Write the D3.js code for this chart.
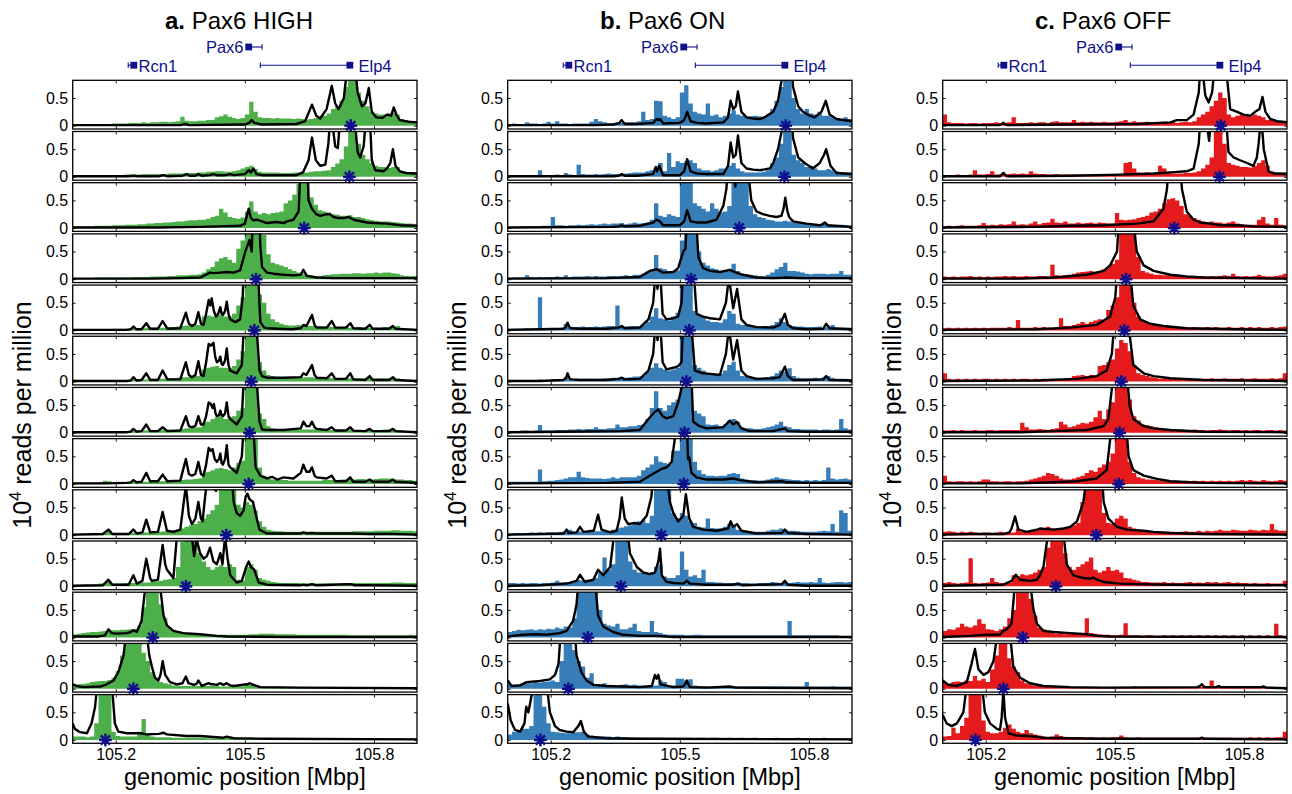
<!DOCTYPE html>
<html><head><meta charset="utf-8">
<script src="https://cdn.jsdelivr.net/npm/d3@7"></script>
<style>
body{margin:0;background:#fff;}
svg{display:block;font-family:"Liberation Sans",Arial,Helvetica,sans-serif;}
</style></head><body>
<svg id="chart" width="1292" height="794"></svg>
<script>
// ---- data -------------------------------------------------------------
const conditions = ["Pax6 HIGH", "Pax6 ON", "Pax6 OFF"];
const panelLetters = ["a.", "b.", "c."];
const regionStart = 105.1, regionEnd = 105.9;   // Mbp
const binKb = 10;                                // histogram bin width, kb
const xTicks = [105.2, 105.5, 105.8];
const yTicks = [0, 0.5];
// viewpoint of each capture row, Mbp
const viewpoints = [105.746, 105.743, 105.638, 105.526, 105.522, 105.515, 105.511, 105.509, 105.457, 105.363, 105.286, 105.241, 105.176];

// gene annotation track
const geneNames   = ["Rcn1", "Pax6", "Elp4"];
const geneMark    = [105.242, 105.509, 105.744];
const geneFrom    = [105.229, 105.509, 105.536];
const geneTo      = [105.242, 105.540, 105.744];
const geneLabelAt = [105.253, 105.497, 105.764];
const geneTrack   = [1, 0, 1];

// measured reads (10^4 reads per million, x100), 10 kb bins from 105.1 Mbp
const highReads = [
[2,2,2,3,3,3,3,3,3,4, 4,4,4,5,5,5,6,5,6,6, 7,7,6,7,8,16,9,8,8,9, 9,10,10,15,17,20,16,14,12,14, 20,43,25,15,14,14,13,14,13,13, 13,12,13,12,11,12,14,15,18,22, 30,35,45,70,100,95,60,45,35,25, 22,20,20,22,23,20,12,10,8,8],
[2,2,2,2,3,3,2,3,3,3, 3,3,4,4,4,4,5,5,5,5, 5,5,6,6,6,6,6,7,7,8, 8,9,9,10,10,9,9,10,12,15, 18,20,14,9,8,8,8,8,7,7, 7,8,8,8,8,9,10,10,11,12, 18,24,32,55,100,100,60,40,32,25, 20,18,18,16,18,18,10,7,5,5],
[3,3,3,3,3,4,4,4,4,5, 5,5,6,6,6,7,7,8,8,9, 9,10,10,11,12,12,13,14,14,15, 15,17,20,22,35,28,20,18,17,19, 30,48,30,25,27,25,27,28,30,45, 50,60,80,100,100,55,42,32,30,28, 25,24,22,22,23,20,20,18,16,14, 13,12,12,12,11,10,9,8,8,7],
[2,2,2,2,2,3,3,3,3,3, 3,3,3,3,4,4,4,4,5,5, 5,5,6,6,7,7,7,8,8,9, 12,18,22,32,38,40,35,30,55,70, 100,100,100,100,80,45,30,27,25,22, 18,15,12,10,8,7,6,6,7,8, 9,9,10,10,10,11,11,10,11,11, 12,11,12,12,11,10,7,6,6,6],
[1,1,1,1,2,2,2,2,2,3, 3,3,3,3,4,4,4,5,5,5, 5,5,6,6,7,8,9,8,10,10, 25,27,25,30,28,25,25,30,45,60, 100,100,100,65,50,30,20,15,12,10, 9,9,10,9,8,8,8,8,7,7, 6,6,5,6,5,5,6,5,5,5, 5,5,6,6,7,8,4,3,3,3],
[1,1,1,1,1,2,2,2,2,2, 3,3,3,3,4,4,4,4,5,5, 5,5,6,6,7,8,8,9,10,10, 22,25,27,28,25,25,25,28,40,55, 100,100,100,35,20,12,10,8,8,8, 8,8,8,8,8,8,7,7,7,7, 6,6,6,6,6,6,6,6,6,6, 6,6,6,6,6,6,4,3,3,3],
[1,1,1,1,2,2,2,2,2,2, 2,3,3,3,3,4,4,4,4,5, 5,5,6,6,7,7,8,8,9,10, 18,20,25,28,30,25,28,30,40,45, 100,100,100,35,25,12,8,7,7,6, 6,6,6,6,6,6,6,5,5,5, 5,5,5,5,5,5,5,5,5,5, 5,5,6,6,6,5,4,3,3,3],
[2,2,2,2,2,3,3,6,5,3, 4,4,3,3,3,4,4,4,5,5, 5,5,6,6,6,7,8,8,9,10, 20,22,25,28,29,27,25,30,38,42, 100,100,100,30,15,10,8,8,7,7, 6,6,6,6,6,6,6,6,7,7, 7,7,8,8,8,8,9,9,8,8, 9,10,10,10,9,8,8,7,7,6],
[2,2,2,2,2,3,3,4,7,3, 3,3,4,4,4,5,5,5,5,6, 6,7,8,9,10,12,15,18,20,25, 30,38,45,55,100,100,100,100,55,50, 60,55,45,25,15,10,8,7,7,6, 6,6,6,6,6,6,6,6,6,6, 6,6,6,6,6,7,7,7,7,7, 8,8,8,8,9,9,8,8,8,7],
[2,2,3,3,3,4,5,6,9,5, 5,5,6,6,6,7,7,7,8,9, 10,12,13,15,35,80,100,100,100,60, 45,35,30,35,38,35,40,35,12,10, 35,40,30,15,12,10,8,7,6,6, 6,6,6,5,5,5,5,5,5,5, 5,5,6,6,6,6,6,6,6,6, 6,6,6,6,7,7,7,6,6,6],
[6,7,8,9,10,10,11,12,12,13, 13,14,14,15,16,22,55,100,100,100, 60,35,18,14,12,10,8,7,6,6, 6,5,5,5,5,5,5,5,5,5, 5,6,6,7,7,7,7,6,6,6, 6,6,5,5,5,5,5,5,5,5, 5,5,5,5,4,4,4,4,4,4, 4,4,4,4,4,4,4,4,5,4],
[8,8,9,10,12,13,14,14,16,20, 32,60,85,100,100,100,65,50,30,20, 12,10,8,6,6,5,5,5,5,5, 5,5,5,5,4,4,4,4,4,4, 8,10,6,4,4,4,4,4,3,3, 3,3,3,3,3,3,3,3,3,3, 3,3,3,3,3,3,3,3,3,3, 3,3,3,3,3,3,3,3,3,3],
[6,6,6,5,6,30,100,100,100,15, 7,6,6,6,6,15,38,10,6,5, 5,5,5,4,4,4,4,4,4,4, 4,3,3,3,3,3,4,5,3,3, 3,5,3,3,3,3,3,3,3,3, 3,3,3,3,3,3,3,3,3,3, 3,3,3,2,3,3,3,3,3,3, 3,3,3,3,3,3,3,2,3,3]
];
const onReads = [
[3,4,3,3,6,4,4,3,4,7, 4,8,4,4,3,4,4,4,4,7, 12,8,6,5,5,6,5,6,6,6, 8,25,10,12,45,44,18,15,12,15, 60,73,40,25,22,20,40,18,20,15, 18,22,28,20,18,16,17,18,17,16, 20,30,45,70,100,100,50,30,22,30, 22,20,25,18,18,15,13,12,15,12],
[2,2,3,3,2,3,3,12,3,3, 3,4,3,7,4,3,22,5,4,4, 5,4,5,6,5,5,5,6,7,8, 8,8,10,12,10,25,10,43,18,28, 25,28,30,25,15,12,12,10,12,15, 15,20,25,15,10,8,8,8,8,9, 12,25,35,60,100,100,40,30,25,18, 20,15,12,12,14,12,10,8,8,8],
[2,2,2,3,3,3,3,3,4,4, 20,5,5,4,5,5,6,5,6,7, 6,7,8,7,8,8,9,7,8,10, 8,9,10,15,45,22,20,25,22,20, 100,100,100,45,40,35,30,45,35,28, 30,40,100,100,100,100,40,25,20,18, 15,14,12,12,13,12,10,10,9,8, 7,6,6,10,6,5,5,6,5,4],
[2,3,3,3,7,4,3,4,3,4, 4,5,4,7,4,5,5,5,6,5, 6,5,5,6,6,5,6,7,6,8, 8,10,14,15,44,20,18,15,15,16, 70,100,100,100,50,30,25,20,18,15, 15,18,28,15,10,9,8,7,5,5, 8,12,18,22,30,15,15,14,12,10, 9,10,10,10,9,10,10,15,8,8],
[3,3,3,3,4,3,3,60,4,4, 4,4,5,12,5,6,6,7,6,6, 7,6,7,8,8,45,6,7,8,8, 8,10,15,25,40,22,20,18,25,32, 100,100,100,35,28,25,18,15,15,14, 20,35,30,12,10,10,8,8,7,8, 8,10,15,22,15,10,8,7,7,6, 6,6,7,5,6,10,5,5,5,5],
[2,2,2,3,3,3,3,4,3,3, 4,4,4,8,4,4,5,5,5,5, 5,5,6,6,7,7,8,7,8,9, 9,10,18,25,33,25,22,20,22,25, 100,100,100,30,25,20,15,15,14,14, 20,30,36,20,10,9,8,7,7,7, 8,10,15,20,18,24,10,7,6,6, 6,7,6,8,10,7,5,5,5,4],
[3,3,3,4,4,3,4,14,4,4, 4,5,5,5,6,6,7,6,7,7, 10,7,7,8,8,15,10,10,12,12, 14,15,25,45,75,45,40,50,55,60, 100,100,100,40,35,30,15,14,15,12, 15,22,25,20,10,8,8,7,7,8, 10,12,15,20,12,10,7,7,6,6, 6,6,5,6,6,5,6,25,8,6],
[4,4,4,4,4,4,4,26,5,6, 6,7,8,10,12,12,22,12,11,10, 10,10,9,10,12,10,12,12,12,12, 15,25,30,35,50,40,38,35,60,60, 100,100,100,40,25,18,15,15,14,15, 15,18,20,18,10,8,7,7,6,6, 8,10,12,10,9,8,7,7,6,7, 6,7,6,7,30,10,8,9,10,8],
[3,4,4,3,4,5,4,5,4,5, 5,5,6,5,10,6,7,6,7,10, 7,7,8,8,10,12,14,16,18,22, 25,28,22,35,100,100,100,100,40,30, 40,35,25,22,15,14,30,13,12,12, 15,20,18,10,7,6,6,6,6,6, 8,10,10,12,10,8,8,7,6,6, 6,6,7,8,7,20,6,45,40,8],
[6,6,5,6,5,6,6,5,6,6, 7,10,7,8,8,10,12,10,12,10, 15,25,52,30,40,100,100,100,45,30, 25,25,22,25,35,40,18,15,15,20, 63,30,18,20,15,30,8,8,7,7, 6,6,6,7,6,6,5,5,6,6, 6,8,7,6,8,6,7,8,7,7, 8,7,15,7,6,7,8,8,7,8],
[10,12,14,13,14,15,13,15,14,16, 15,18,16,20,18,35,100,100,100,100, 100,50,25,22,20,25,15,15,18,25, 12,10,10,30,10,8,6,5,5,5, 5,4,4,5,5,4,4,4,4,4, 4,4,4,4,4,4,4,4,4,4, 4,4,4,4,4,30,4,4,4,4, 4,4,4,4,4,4,4,3,3,3],
[8,7,8,10,12,10,12,11,12,13, 15,12,50,100,100,70,50,40,20,28, 8,8,10,7,6,6,7,8,6,7, 6,6,5,6,6,15,12,5,6,18, 18,15,17,6,5,5,4,4,4,5, 4,4,4,4,4,4,4,4,4,4, 4,4,4,4,4,4,4,4,4,12, 4,4,4,4,4,5,4,4,4,4],
[10,15,18,20,20,25,100,100,60,30, 15,14,13,12,12,14,14,15,10,8, 7,6,6,6,5,6,5,5,4,4, 4,4,4,4,4,4,4,4,4,4, 4,4,4,3,4,4,3,4,4,3, 3,4,3,3,4,3,3,4,3,3, 3,3,4,3,3,3,3,4,3,3, 3,3,3,4,3,3,3,3,3,3]
];
const offReads = [
[20,6,5,5,5,4,5,5,4,5, 5,5,6,5,5,6,15,5,5,5, 6,5,6,6,5,7,8,6,6,6, 10,6,7,6,7,6,6,7,6,6, 7,8,10,6,8,6,6,7,6,6, 6,7,6,7,5,6,7,6,8,15, 20,25,35,45,60,50,20,15,18,20, 18,17,20,18,15,10,10,8,8,7],
[3,3,3,4,3,3,4,12,4,4, 5,10,4,5,4,5,6,5,6,5, 10,6,5,5,4,4,5,4,4,4, 4,4,4,4,4,5,4,4,4,4, 5,5,25,27,15,8,7,8,6,7, 20,15,7,6,6,6,7,7,8,10, 15,22,35,100,100,60,25,22,20,18, 18,17,20,25,30,20,10,8,8,8],
[3,4,3,4,5,4,4,4,5,9, 5,6,5,7,6,7,12,6,7,6, 8,12,7,9,10,17,10,9,12,8, 8,10,8,9,10,8,10,9,8,8, 27,15,14,15,16,18,20,22,28,30, 35,45,52,54,50,40,25,22,18,15, 12,10,12,10,10,8,10,12,8,7, 6,6,6,15,20,8,6,18,6,5],
[5,4,5,4,5,5,6,4,5,4, 5,4,5,5,6,5,6,5,5,6, 5,5,6,6,5,26,7,6,7,8, 10,12,13,14,15,13,15,18,22,28, 35,100,100,100,100,40,15,12,10,8, 8,7,8,6,6,5,6,6,5,6, 6,5,6,5,6,7,6,10,6,5, 6,5,6,8,6,5,5,6,7,10],
[4,5,4,5,4,5,4,5,4,5, 4,5,5,5,5,6,5,19,5,5, 5,6,5,6,5,4,6,22,8,8, 10,12,15,12,15,18,20,18,37,45, 60,100,100,100,50,25,18,15,12,10, 8,6,7,6,5,6,6,5,6,5, 5,6,5,6,5,5,6,5,5,6, 5,6,5,6,5,5,6,5,6,7],
[15,5,4,5,4,5,4,5,4,5, 5,4,5,4,5,4,5,4,5,5, 4,5,4,5,4,5,5,4,5,5, 10,11,12,10,12,11,28,30,35,40, 60,75,70,55,30,15,12,10,8,7, 5,6,5,5,6,5,5,6,5,5, 5,5,6,5,5,6,5,5,5,6, 5,5,6,5,5,5,6,5,6,15],
[4,4,5,4,5,4,4,5,4,4, 5,5,4,5,5,5,5,5,18,10, 6,6,7,6,5,7,8,20,15,10, 12,15,18,17,20,28,40,25,42,55, 100,100,100,60,30,22,15,14,12,10, 6,5,6,5,5,6,5,5,6,5, 5,4,5,5,6,5,4,5,5,4, 5,4,5,5,4,5,5,4,5,4],
[15,5,4,5,5,4,5,4,5,8, 8,5,5,4,5,5,4,5,5,6, 8,10,12,15,20,18,15,10,8,8, 10,12,15,20,25,22,30,35,40,55, 100,100,100,40,20,12,10,8,8,7, 6,5,6,5,6,5,6,5,6,5, 6,5,6,5,6,5,6,5,6,7, 6,7,6,5,7,6,5,6,7,6],
[6,7,6,5,6,5,6,5,4,5, 5,4,5,6,5,4,5,12,6,6, 8,10,12,13,15,12,10,12,14,15, 18,22,60,100,100,100,100,40,22,20, 30,35,30,15,12,10,8,7,6,6, 6,6,6,6,5,6,7,6,6,8, 6,8,7,8,10,8,8,10,9,8, 8,10,9,8,10,9,20,10,8,8],
[6,8,6,5,6,7,51,6,5,6, 7,15,8,6,6,6,20,18,22,20, 22,25,30,35,70,100,100,100,60,35, 30,35,40,45,52,30,25,28,35,28, 30,25,15,14,12,10,8,8,7,7, 7,8,6,7,6,6,7,8,6,7, 6,8,7,8,6,7,8,6,7,6, 6,5,6,5,5,6,5,5,5,10],
[12,15,14,18,25,20,18,22,33,25, 15,14,12,15,20,35,50,100,100,100, 70,40,18,15,10,8,7,8,6,7, 8,6,7,35,8,7,6,5,5,4, 4,5,26,4,4,4,3,4,4,3, 3,4,3,4,3,4,3,4,3,4, 3,4,3,4,3,4,3,4,3,4, 3,4,3,4,3,4,3,25,4,3],
[12,10,12,13,12,15,14,23,15,18, 12,35,60,100,90,55,40,30,15,10, 8,6,5,5,4,4,3,3,3,3, 3,3,3,3,3,3,3,3,3,3, 3,3,3,3,4,3,3,3,3,3, 3,3,3,3,3,3,3,3,3,3, 3,3,15,4,3,3,3,3,3,3, 3,3,3,3,5,3,3,3,3,3],
[6,7,22,12,25,40,100,100,100,35, 15,12,12,15,22,28,20,15,12,18, 12,10,8,6,5,6,10,7,5,5, 5,5,5,4,5,4,4,5,4,5, 5,8,5,4,4,5,4,4,4,4, 4,4,4,4,4,4,4,4,4,4, 4,4,4,4,4,4,4,4,4,4, 4,5,4,5,4,5,4,5,5,15]
];

// model profiles: pairs of (kb from 105.1 Mbp, value x100)
const highModel = [
[0,1, 250,1, 262,3, 270,1, 400,2, 410,5, 416,10, 422,5, 440,2, 520,3, 540,8, 556,38, 566,18, 575,13, 590,30, 602,72, 610,40, 618,30, 630,50, 640,120, 647,300, 655,120, 662,60, 672,35, 680,40, 688,68, 695,25, 705,15, 720,14, 730,20, 740,18, 746,33, 752,20, 760,10, 780,7, 800,6],
[0,1, 130,1, 141,2, 150,1, 200,1, 211,3, 220,1, 255,2, 265,5, 272,2, 285,2, 292,5, 300,2, 318,3, 327,5, 335,3, 355,3, 366,5, 375,3, 400,5, 409,12, 414,8, 420,15, 427,5, 440,3, 520,3, 535,8, 548,30, 556,71, 565,30, 575,20, 587,22, 594,60, 600,120, 606,80, 610,55, 616,52, 623,120, 640,300, 650,300, 658,80, 662,45, 668,35, 676,55, 683,120, 688,200, 692,80, 695,30, 703,12, 722,10, 730,15, 738,25, 744,50, 750,20, 760,10, 775,7, 800,6],
[0,1, 200,1, 296,2, 340,3, 389,4, 400,8, 409,35, 414,18, 420,14, 428,15, 440,12, 451,9, 474,11, 490,9, 498,12, 513,15, 525,30, 530,120, 538,300, 545,120, 548,50, 556,35, 566,25, 575,22, 590,25, 598,25, 606,20, 618,18, 629,18, 641,20, 653,15, 684,10, 700,9, 730,8, 761,5, 800,4],
[0,1, 180,1, 250,2, 296,3, 319,12, 327,11, 343,12, 358,13, 374,12, 389,16, 401,50, 411,71, 416,50, 420,150, 426,300, 432,150, 436,60, 440,22, 451,12, 467,10, 490,8, 513,7, 530,8, 536,17, 544,6, 567,3, 606,2, 800,2],
[0,1, 125,1, 135,2, 141,7, 148,2, 160,2, 171,13, 180,3, 198,3, 209,17, 220,3, 250,4, 263,32, 270,12, 277,8, 285,12, 292,33, 298,12, 304,10, 310,30, 316,55, 320,45, 323,58, 328,35, 333,25, 338,30, 343,42, 346,30, 349,28, 354,35, 358,52, 362,30, 366,20, 378,15, 389,20, 395,60, 402,200, 408,120, 412,95, 420,150, 426,250, 432,80, 436,15, 445,5, 451,4, 475,3, 510,2, 530,4, 536,10, 543,8, 556,28, 562,10, 567,5, 590,5, 602,17, 610,5, 635,5, 645,13, 652,4, 680,3, 690,10, 697,3, 735,3, 744,8, 750,3, 800,1],
[0,1, 125,1, 135,2, 141,8, 148,2, 160,3, 171,15, 180,3, 198,3, 209,20, 220,4, 250,4, 263,35, 270,12, 277,8, 285,12, 292,37, 298,12, 304,10, 310,35, 316,68, 321,65, 327,70, 331,45, 335,35, 340,38, 343,45, 346,32, 349,30, 354,38, 358,60, 362,30, 366,20, 381,15, 393,30, 397,90, 405,250, 415,300, 424,250, 428,90, 434,20, 440,10, 451,7, 490,7, 530,8, 536,15, 543,12, 556,30, 562,12, 567,7, 590,6, 602,15, 610,5, 635,5, 645,15, 652,4, 680,3, 690,10, 697,3, 735,3, 744,8, 750,3, 800,1],
[0,1, 125,1, 135,2, 141,7, 148,2, 160,3, 171,15, 180,3, 198,3, 209,10, 220,3, 250,4, 263,30, 270,12, 277,10, 285,12, 292,30, 298,15, 304,15, 310,30, 316,55, 321,52, 325,45, 328,52, 332,35, 335,30, 340,32, 343,40, 346,32, 349,30, 354,35, 358,55, 362,30, 366,25, 381,15, 393,30, 397,90, 405,250, 412,300, 420,250, 428,90, 434,20, 440,6, 451,5, 490,5, 530,8, 536,20, 543,12, 550,12, 556,20, 562,10, 567,7, 590,5, 602,10, 610,4, 635,4, 645,10, 652,4, 680,3, 690,7, 697,3, 735,3, 744,7, 750,3, 800,1],
[0,1, 80,1, 125,2, 135,3, 141,7, 148,3, 160,4, 171,20, 180,5, 198,5, 209,17, 220,5, 250,6, 263,45, 270,18, 277,15, 285,18, 292,40, 298,18, 304,15, 310,35, 316,65, 321,60, 325,63, 330,45, 335,40, 340,45, 343,55, 346,38, 349,35, 354,45, 358,70, 362,35, 366,30, 381,20, 393,50, 397,100, 409,300, 420,100, 425,30, 436,15, 451,10, 463,13, 475,8, 490,12, 513,10, 530,20, 536,35, 543,22, 550,22, 556,30, 562,15, 567,12, 590,10, 602,15, 610,5, 635,5, 645,12, 652,4, 680,4, 690,8, 697,4, 735,4, 744,8, 750,4, 800,2],
[0,1, 70,2, 83,10, 92,2, 130,2, 141,10, 149,3, 162,5, 171,28, 180,5, 198,6, 209,42, 219,8, 234,6, 250,10, 263,90, 270,35, 277,20, 285,30, 292,60, 298,30, 302,25, 305,50, 312,100, 319,120, 327,90, 333,80, 339,120, 357,300, 370,100, 374,60, 381,40, 389,35, 397,45, 402,70, 406,75, 411,65, 419,60, 426,35, 434,10, 451,3, 530,3, 536,5, 545,3, 556,4, 565,3, 602,3, 645,3, 690,2, 744,2, 800,1],
[0,1, 70,2, 83,12, 92,3, 130,3, 141,20, 149,5, 162,10, 171,50, 180,15, 184,10, 198,12, 209,75, 215,40, 219,30, 234,15, 242,90, 253,200, 264,300, 271,150, 277,90, 282,55, 288,85, 296,60, 304,50, 312,55, 319,70, 327,45, 335,40, 343,60, 348,40, 354,90, 360,50, 366,20, 381,7, 393,10, 403,35, 409,45, 414,35, 422,30, 432,7, 451,3, 530,2, 536,3, 545,2, 556,4, 565,2, 602,3, 645,4, 655,2, 690,2, 800,1],
[0,2, 60,2, 75,4, 83,15, 91,8, 102,7, 126,8, 135,10, 141,13, 149,10, 160,30, 170,100, 186,300, 202,100, 211,40, 219,22, 234,12, 257,8, 296,6, 335,3, 358,2, 500,1, 800,1],
[0,8, 9,5, 25,3, 64,4, 79,8, 95,15, 106,30, 118,60, 124,100, 141,300, 157,100, 160,82, 166,120, 172,100, 178,60, 184,40, 191,20, 199,15, 204,25, 209,50, 215,25, 226,12, 242,8, 255,10, 263,22, 269,10, 281,7, 288,9, 292,15, 300,5, 316,10, 322,8, 327,8, 335,7, 343,10, 350,7, 358,10, 366,6, 374,5, 405,8, 412,10, 420,7, 436,3, 529,2, 800,1],
[0,30, 5,20, 17,14, 33,12, 44,30, 52,60, 57,100, 76,300, 91,100, 98,30, 106,15, 126,12, 157,12, 172,10, 200,11, 211,13, 219,10, 265,7, 296,7, 350,4, 358,6, 374,3, 450,2, 800,1]
];
const onModel = [
[0,1, 200,1, 245,2, 258,4, 265,10, 272,3, 300,3, 338,5, 346,12, 350,10, 354,12, 361,4, 400,5, 410,10, 417,25, 425,8, 440,5, 462,4, 501,6, 512,15, 518,45, 524,30, 530,35, 535,62, 543,25, 555,15, 570,13, 586,12, 597,15, 617,25, 628,45, 636,80, 640,130, 648,300, 659,130, 663,70, 675,35, 686,25, 702,18, 713,15, 729,25, 739,45, 748,20, 764,12, 800,8],
[0,1, 245,1, 258,2, 265,5, 272,2, 300,2, 338,5, 344,18, 347,10, 352,20, 361,3, 400,3, 410,10, 417,32, 425,10, 440,6, 462,5, 501,5, 512,20, 518,62, 524,35, 530,40, 535,75, 543,25, 555,15, 570,13, 586,12, 609,15, 617,25, 628,50, 636,80, 640,130, 646,300, 659,130, 663,70, 675,35, 690,25, 709,15, 725,25, 735,40, 740,50, 750,20, 764,7, 800,5],
[0,1, 245,2, 258,3, 265,5, 272,3, 307,4, 338,10, 346,15, 354,12, 361,5, 400,5, 410,12, 417,32, 425,12, 440,10, 462,10, 485,15, 501,40, 508,70, 513,120, 520,100, 524,100, 529,75, 534,130, 543,300, 555,130, 566,50, 578,30, 593,25, 609,22, 624,20, 636,22, 641,35, 645,55, 650,30, 654,20, 663,12, 694,8, 725,5, 732,7, 737,10, 744,5, 800,2],
[0,1, 230,2, 307,4, 330,15, 346,18, 361,12, 385,13, 396,20, 408,50, 413,55, 417,120, 429,300, 435,150, 443,40, 454,20, 470,15, 493,13, 516,17, 531,12, 547,8, 578,3, 620,2, 648,3, 680,2, 800,2],
[0,1, 75,2, 129,3, 135,6, 139,14, 144,5, 149,4, 168,3, 230,3, 258,5, 265,8, 272,4, 307,5, 327,20, 338,50, 344,110, 348,75, 354,110, 360,30, 369,20, 385,22, 396,25, 404,50, 408,120, 422,300, 431,120, 439,30, 454,25, 470,22, 493,20, 507,50, 513,90, 516,85, 524,40, 533,75, 543,20, 555,10, 578,6, 617,5, 632,10, 644,30, 651,10, 663,4, 694,2, 733,3, 740,12, 748,4, 800,2],
[0,1, 75,1, 129,3, 135,6, 139,15, 144,5, 149,4, 168,3, 230,3, 258,5, 265,7, 272,4, 307,5, 327,20, 338,50, 344,110, 348,75, 354,110, 360,35, 369,22, 385,25, 396,28, 404,35, 408,120, 415,300, 425,120, 435,20, 454,15, 470,14, 493,12, 507,50, 513,90, 516,85, 524,40, 533,75, 543,20, 555,10, 578,5, 617,6, 632,8, 644,27, 651,10, 663,3, 694,3, 733,4, 740,10, 748,3, 800,2],
[0,1, 129,2, 265,3, 307,5, 327,25, 342,38, 350,42, 360,30, 369,26, 385,30, 396,55, 404,80, 408,130, 412,300, 420,180, 427,100, 431,20, 446,12, 462,8, 501,10, 516,22, 524,15, 532,20, 543,8, 562,3, 617,3, 644,8, 651,3, 694,2, 800,2],
[0,1, 230,2, 307,4, 330,15, 346,22, 360,28, 369,30, 381,40, 388,80, 395,150, 410,300, 416,120, 419,45, 422,48, 427,20, 439,12, 462,8, 501,8, 524,10, 539,7, 578,3, 637,5, 648,3, 694,2, 800,2],
[0,1, 75,2, 130,3, 137,10, 141,4, 160,5, 168,15, 176,6, 200,8, 210,37, 218,10, 238,5, 253,8, 260,30, 265,68, 272,30, 280,20, 295,22, 307,20, 323,35, 334,70, 338,110, 356,300, 369,110, 377,60, 385,40, 396,25, 408,35, 414,74, 422,30, 431,15, 454,10, 485,8, 512,12, 518,25, 524,15, 533,20, 543,8, 578,3, 637,4, 644,10, 651,4, 694,2, 800,1],
[0,1, 75,2, 137,5, 160,10, 168,21, 179,8, 199,12, 210,30, 222,20, 238,35, 245,80, 249,120, 263,300, 276,120, 284,60, 300,35, 315,25, 330,22, 342,25, 350,45, 354,68, 358,20, 369,8, 385,6, 408,5, 417,10, 423,5, 462,3, 524,3, 535,5, 545,2, 637,4, 644,10, 651,3, 694,1, 800,1],
[0,2, 36,5, 67,6, 91,5, 121,8, 137,12, 152,30, 160,60, 164,100, 186,300, 203,100, 210,40, 222,20, 245,10, 268,5, 307,3, 346,3, 385,1, 800,1],
[0,15, 9,5, 29,6, 44,12, 75,14, 98,17, 110,25, 118,45, 123,100, 141,300, 156,100, 160,60, 171,30, 183,15, 199,7, 230,5, 307,3, 335,5, 342,25, 346,18, 350,25, 355,8, 385,3, 408,4, 412,8, 416,15, 420,8, 423,3, 462,2, 516,4, 530,2, 800,1],
[0,66, 7,35, 17,18, 29,15, 39,30, 43,60, 48,50, 53,70, 60,100, 75,300, 91,100, 98,50, 110,25, 121,18, 137,15, 152,14, 164,25, 170,34, 177,15, 187,6, 230,3, 307,2, 800,1]
];
const offModel = [
[0,1, 133,1, 141,5, 149,1, 296,2, 451,3, 529,6, 544,10, 567,10, 583,20, 595,60, 598,100, 601,150, 604,100, 610,55, 618,42, 626,60, 631,100, 645,300, 659,100, 668,30, 684,25, 699,20, 715,18, 726,25, 736,30, 743,52, 750,25, 761,12, 777,8, 800,6],
[0,1, 133,1, 141,7, 149,1, 296,2, 412,4, 490,6, 529,8, 567,10, 583,15, 595,60, 598,100, 605,150, 613,100, 619,65, 623,100, 643,300, 659,100, 664,45, 676,35, 691,30, 707,25, 722,20, 730,35, 734,60, 740,110, 746,50, 757,10, 769,6, 800,5],
[0,1, 219,2, 296,4, 374,5, 451,8, 490,12, 513,35, 521,70, 525,110, 537,300, 552,110, 556,70, 567,30, 583,15, 598,10, 622,8, 645,5, 684,5, 722,3, 800,2],
[0,1, 180,1, 257,3, 335,8, 374,15, 389,25, 405,50, 409,100, 426,300, 443,100, 451,50, 467,25, 490,15, 529,8, 567,5, 606,3, 700,2, 800,1],
[0,1, 219,2, 296,5, 358,10, 389,25, 401,60, 405,100, 422,300, 436,100, 443,45, 459,20, 482,12, 513,8, 567,4, 684,2, 800,1],
[0,1, 219,2, 312,5, 358,10, 381,20, 393,50, 398,100, 414,300, 432,100, 443,30, 467,15, 490,10, 529,6, 606,3, 800,1],
[0,1, 180,1, 257,3, 335,5, 374,12, 385,25, 393,80, 397,110, 411,300, 428,110, 434,50, 443,25, 467,12, 490,8, 529,5, 606,2, 800,1],
[0,1, 180,1, 257,3, 312,5, 358,10, 381,25, 389,80, 393,110, 409,300, 426,110, 432,50, 443,25, 467,15, 505,8, 529,5, 606,2, 800,1],
[0,1, 64,2, 141,2, 155,5, 160,12, 168,34, 176,10, 195,6, 219,10, 226,12, 257,10, 281,12, 296,15, 312,25, 327,60, 335,110, 357,300, 370,110, 374,60, 385,30, 405,15, 428,10, 467,8, 490,6, 529,4, 606,2, 800,1],
[0,1, 141,3, 160,10, 170,21, 180,12, 203,10, 219,12, 226,20, 234,35, 242,80, 246,110, 264,300, 279,110, 288,40, 304,20, 327,15, 343,14, 350,16, 358,12, 374,8, 412,5, 451,4, 529,3, 800,2],
[0,1, 64,3, 102,5, 133,5, 141,12, 149,15, 160,25, 168,100, 186,300, 203,100, 211,50, 219,25, 234,12, 257,10, 296,8, 335,6, 358,3, 389,2, 800,1],
[0,15, 13,7, 33,5, 56,12, 67,45, 75,72, 83,35, 95,25, 106,30, 118,50, 129,110, 141,300, 155,110, 164,40, 180,20, 203,10, 234,5, 296,3, 374,2, 590,3, 596,4, 602,8, 608,3, 636,3, 641,5, 646,3, 740,3, 746,4, 752,2, 800,1],
[0,45, 9,30, 21,25, 33,30, 48,50, 56,100, 76,300, 91,100, 98,50, 110,30, 126,20, 133,18, 137,40, 141,90, 145,40, 153,12, 172,8, 203,7, 234,4, 296,3, 374,2, 596,2, 602,4, 608,2, 800,1]
];

const readsByCondition = [highReads, onReads, offReads];
const modelByCondition = [highModel, onModel, offModel];

// ---- layout & style ---------------------------------------------------
const fillColors = ["#4daf4a", "#377eb8", "#e41a1c"];
const navy = "#10108c";
const colLeft = [72.7, 507.7, 942.7], panelW = 344.3;
const rowTop0 = 80.3, rowStep = 51.19, panelH = 48.7;
const yMax = 0.82, yMin = 0.82 - panelH / 55.3;
const fontStack = '"Liberation Sans", Arial, Helvetica, sans-serif';

const svg = d3.select("#chart");
const defs = svg.append("defs");

const styleAxis = g => {
  g.select(".domain").remove();
  g.selectAll("line").attr("stroke", "#000").attr("stroke-width", 0.9);
  g.selectAll("text").attr("fill", "#000").attr("font-size", 16).attr("font-family", fontStack);
  g.attr("font-family", fontStack);
};

conditions.forEach((cond, c) => {
  const left = colLeft[c];
  const x = d3.scaleLinear().domain([regionStart, regionEnd]).range([left, left + panelW]);

  // panel title
  const title = svg.append("text").attr("x", left + 92.3).attr("y", 28.5)
    .attr("font-size", 24).attr("fill", "#000");
  title.append("tspan").attr("font-weight", "bold").text(panelLetters[c]);
  title.append("tspan").text(" " + cond);

  // gene track
  geneNames.forEach((name, k) => {
    const gy = geneTrack[k] === 0 ? 47 : 65.2;
    const g = svg.append("g").attr("stroke", navy).attr("fill", navy);
    g.append("line").attr("x1", x(geneFrom[k])).attr("x2", x(geneTo[k]))
      .attr("y1", gy).attr("y2", gy).attr("stroke-width", 1.1);
    const tickAt = geneFrom[k] === geneMark[k] ? geneTo[k] : geneFrom[k];
    g.append("line").attr("x1", x(tickAt)).attr("x2", x(tickAt))
      .attr("y1", gy - 2.8).attr("y2", gy + 2.8).attr("stroke-width", 1.1);
    g.append("rect").attr("x", x(geneMark[k]) - 3.4).attr("y", gy - 3.4)
      .attr("width", 6.8).attr("height", 6.8).attr("stroke", "none");
    const rightSide = geneLabelAt[k] > geneMark[k];
    svg.append("text").attr("x", x(geneLabelAt[k])).attr("y", gy + 6.3)
      .attr("text-anchor", rightSide ? "start" : "end")
      .attr("font-size", 16.5).attr("fill", navy).text(name);
  });

  // y-axis label
  const yl = svg.append("text")
    .attr("transform", `translate(${left - 41.5},415) rotate(-90)`)
    .attr("text-anchor", "middle").attr("font-size", 25).attr("fill", "#000");
  yl.append("tspan").text("10");
  yl.append("tspan").attr("font-size", 16.5).attr("dy", -10).text("4");
  yl.append("tspan").attr("dy", 10).text(" reads per million");

  // x-axis label
  svg.append("text").attr("x", left + panelW / 2).attr("y", 785)
    .attr("text-anchor", "middle").attr("font-size", 23.5).attr("fill", "#000")
    .text("genomic position [Mbp]");

  viewpoints.forEach((vp, r) => {
    const top = rowTop0 + r * rowStep;
    const y = d3.scaleLinear().domain([yMin, yMax]).range([top + panelH, top]);
    const clipId = `clip-${c}-${r}`;
    defs.append("clipPath").attr("id", clipId).append("rect")
      .attr("x", left).attr("y", top).attr("width", panelW).attr("height", panelH);

    const g = svg.append("g");
    const plot = g.append("g").attr("clip-path", `url(#${clipId})`);

    // read histogram
    const reads = readsByCondition[c][r];
    const pts = reads.map((v, i) => [regionStart + i * binKb / 1000, v / 100]);
    pts.push([regionStart + reads.length * binKb / 1000, reads[reads.length - 1] / 100]);
    const area = d3.area().x(d => x(d[0])).y0(y(0)).y1(d => y(d[1])).curve(d3.curveStepAfter);
    plot.append("path").attr("d", area(pts)).attr("fill", fillColors[c]);

    // model profile
    const m = modelByCondition[c][r];
    const lp = [];
    for (let i = 0; i < m.length; i += 2) lp.push([regionStart + m[i] / 1000, m[i + 1] / 100]);
    const line = d3.line().x(d => x(d[0])).y(d => y(d[1]));
    plot.append("path").attr("d", line(lp)).attr("fill", "none")
      .attr("stroke", "#000").attr("stroke-width", 2.4).attr("stroke-linejoin", "round");

    // axes with inward ticks
    g.append("g").attr("transform", `translate(${left},0)`)
      .call(d3.axisLeft(y).tickValues(yTicks).tickSize(-3).tickPadding(4.5)
        .tickFormat(d => d === 0 ? "0" : d3.format(".1f")(d)))
      .call(styleAxis);
    g.append("g").attr("transform", `translate(${left + panelW},0)`)
      .call(d3.axisRight(y).tickValues(yTicks).tickSize(-3).tickFormat(""))
      .call(styleAxis);
    g.append("g").attr("transform", `translate(0,${top})`)
      .call(d3.axisTop(x).tickValues(xTicks).tickSize(-3).tickFormat(""))
      .call(styleAxis);
    g.append("g").attr("transform", `translate(0,${top + panelH})`)
      .call(d3.axisBottom(x).tickValues(xTicks).tickSize(-3).tickPadding(5.5)
        .tickFormat(r === viewpoints.length - 1 ? d3.format(".1f") : () => ""))
      .call(styleAxis);

    // frame
    g.append("rect").attr("x", left).attr("y", top).attr("width", panelW).attr("height", panelH)
      .attr("fill", "none").attr("stroke", "#000").attr("stroke-width", 1.3);

    // viewpoint marker
    const cx = x(vp), cy = y(0), s = 6.4, d = 4.6;
    const mk = g.append("g").attr("stroke", navy).attr("stroke-width", 2.5).attr("stroke-linecap", "butt");
    [[0, -s, 0, s], [-s, 0, s, 0], [-d, -d, d, d], [-d, d, d, -d]].forEach(a =>
      mk.append("line").attr("x1", cx + a[0]).attr("y1", cy + a[1]).attr("x2", cx + a[2]).attr("y2", cy + a[3]));
  });
});
</script>
</body></html>
